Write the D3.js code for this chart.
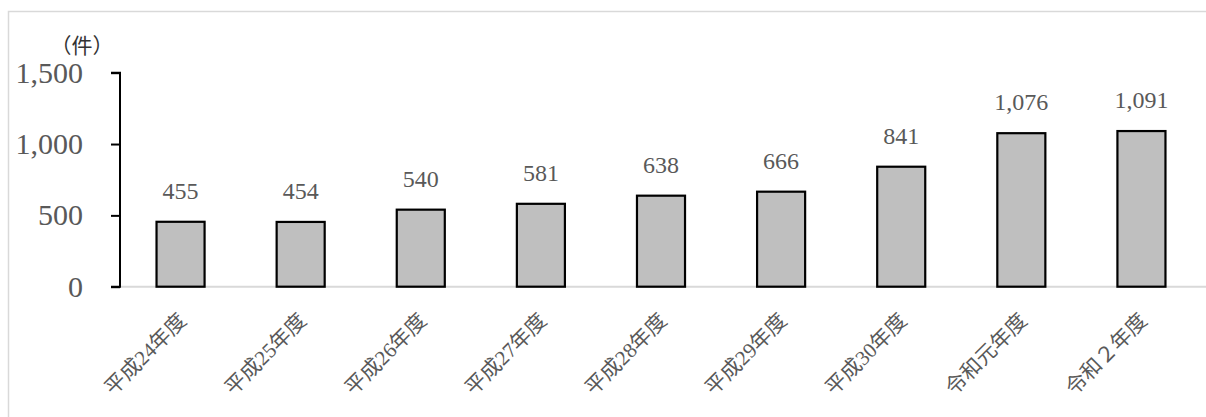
<!DOCTYPE html>
<html><head><meta charset="utf-8">
<script src="https://cdn.jsdelivr.net/npm/d3@7"></script>
<style>body{margin:0;background:#fff;}svg{display:block;}</style>
</head><body>
<svg id="c" width="1206" height="417"></svg>
<script>
const categories = ["平成24年度","平成25年度","平成26年度","平成27年度","平成28年度","平成29年度","平成30年度","令和元年度","令和２年度"];
const values = [455,454,540,581,638,666,841,1076,1091];
const yTicks = [0,500,1000,1500];
const unitLabel = "（件）";

const svg = d3.select("#c");
svg.append("rect").attr("x",8.5).attr("y",11.5).attr("width",1210).attr("height",420)
  .attr("fill","#fff").attr("stroke","#d9d9d9").attr("stroke-width",1.5);

const x = d3.scaleBand().domain(categories).range([120.5,1201.5]).paddingInner(0.6).paddingOuter(0.3);
const y = d3.scaleLinear().domain([0,1500]).range([286.7,72.7]);

const serif = "Liberation Serif, Noto Sans CJK JP, serif";

svg.append("line").attr("x1",120).attr("x2",1206).attr("y1",y(0)).attr("y2",y(0))
  .attr("stroke","#d9d9d9").attr("stroke-width",2);

svg.append("g").selectAll("rect").data(values).join("rect")
  .attr("x",(d,i)=>x(categories[i]))
  .attr("y",d=>y(d))
  .attr("width",x.bandwidth())
  .attr("height",d=>y(0)-y(d))
  .attr("fill","#bfbfbf").attr("stroke","#000").attr("stroke-width",2.2);

svg.append("g").selectAll("text").data(values).join("text")
  .attr("x",(d,i)=>x(categories[i])+x.bandwidth()/2)
  .attr("y",d=>y(d)-23)
  .attr("text-anchor","middle")
  .style("font-family",serif).style("font-size","24px").attr("fill","#595959")
  .text(d=>d3.format(",")(d));

const ya = svg.append("g").attr("transform","translate(120,0)")
  .call(d3.axisLeft(y).tickValues(yTicks).tickFormat(d3.format(",")).tickSize(9).tickPadding(28));
ya.select(".domain").attr("stroke","#000").attr("stroke-width",2).attr("d","M-9,"+y(1500)+"H0V"+y(0)+"H-9");
ya.selectAll(".tick line").attr("stroke","#000").attr("stroke-width",2);
ya.selectAll(".tick text").style("font-family",serif).style("font-size","30px").attr("fill","#595959");

svg.append("g").selectAll("text").data(categories).join("text")
  .attr("transform",d=>`translate(${x(d)+x.bandwidth()/2+7},322) rotate(-45)`)
  .attr("text-anchor","end")
  .style("font-family",serif).style("font-size","21px").attr("fill","#595959")
  .text(d=>d);

svg.append("text").attr("x",82).attr("y",53).attr("text-anchor","middle")
  .style("font-family","Noto Sans CJK JP, sans-serif").style("font-size","21px").attr("fill","#333")
  .text(unitLabel);
</script>
</body></html>
